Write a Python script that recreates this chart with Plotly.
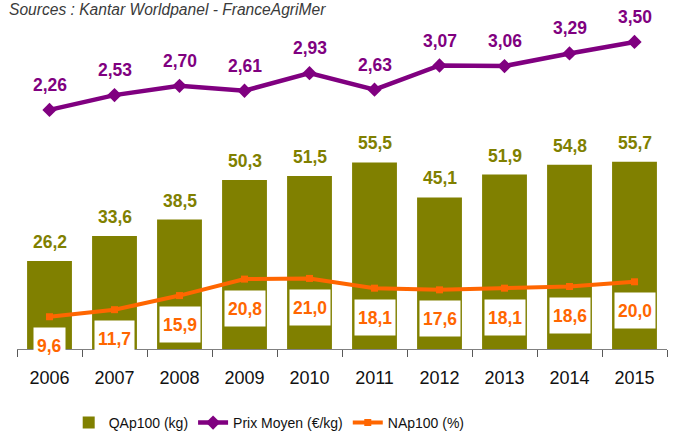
import plotly.graph_objects as go

years = ["2006", "2007", "2008", "2009", "2010", "2011", "2012", "2013", "2014", "2015"]
qap100 = [26.2, 33.6, 38.5, 50.3, 51.5, 55.5, 45.1, 51.9, 54.8, 55.7]
prix_moyen = [2.26, 2.53, 2.70, 2.61, 2.93, 2.63, 3.07, 3.06, 3.29, 3.50]
nap100 = [9.6, 11.7, 15.9, 20.8, 21.0, 18.1, 17.6, 18.1, 18.6, 20.0]

OLIVE = "#808000"
PURPLE = "#800080"
ORANGE = "#FF6600"
FONT = "Liberation Sans, Arial, sans-serif"


def fr(v, nd=1):
    """French decimal comma."""
    return f"{v:.{nd}f}".replace(".", ",")


fig = go.Figure()

fig.add_trace(
    go.Bar(
        x=years,
        y=qap100,
        name="QAp100 (kg)",
        marker=dict(color=OLIVE, line_width=0),
        yaxis="y",
    )
)
fig.add_trace(
    go.Scatter(
        x=years,
        y=prix_moyen,
        name="Prix Moyen (€/kg)",
        mode="lines+markers",
        line=dict(color=PURPLE, width=4.5),
        marker=dict(symbol="diamond", size=11, color=PURPLE),
        yaxis="y2",
        cliponaxis=False,
    )
)
fig.add_trace(
    go.Scatter(
        x=years,
        y=nap100,
        name="NAp100 (%)",
        mode="lines+markers",
        line=dict(color=ORANGE, width=4),
        marker=dict(symbol="square", size=7, color=ORANGE),
        yaxis="y",
    )
)

# value labels (x given as category index so "2006" isn't read as index 2006)
for i, v in enumerate(qap100):
    fig.add_annotation(
        x=i, y=v, yref="y", text=fr(v), showarrow=False, yshift=19,
        font=dict(family=FONT, size=17.5, color=OLIVE, weight="bold"),
    )
for i, v in enumerate(prix_moyen):
    fig.add_annotation(
        x=i, y=v, yref="y2", text=fr(v, 2), showarrow=False, yshift=25,
        font=dict(family=FONT, size=17.5, color=PURPLE, weight="bold"),
    )
for i, v in enumerate(nap100):
    fig.add_annotation(
        x=i, y=v, yref="y", text=fr(v), showarrow=False, yshift=-29,
        bgcolor="white", height=29, borderpad=3,
        font=dict(family=FONT, size=17.5, color=ORANGE, weight="bold"),
    )

fig.add_annotation(
    x=0, y=1, xref="paper", yref="paper", xanchor="left", yanchor="middle",
    xshift=-10, yshift=11,
    text="<i>Sources : Kantar Worldpanel - FranceAgriMer</i>", showarrow=False,
    font=dict(family=FONT, size=15.6, color="#3a3a3a"),
)

fig.update_layout(
    width=673,
    height=435,
    margin=dict(l=17, r=6, t=20, b=86),
    paper_bgcolor="white",
    plot_bgcolor="white",
    bargap=0.31,
    font=dict(family=FONT, color="#000000"),
    xaxis=dict(
        type="category",
        range=[-0.5, len(years) - 0.5],
        showline=True,
        linecolor="#808080",
        linewidth=1,
        ticks="outside",
        tickson="boundaries",
        ticklen=7,
        tickcolor="#595959",
        tickfont=dict(size=18, color="#111111"),
        ticklabelstandoff=12,
        tickangle=0,
        showgrid=False,
    ),
    yaxis=dict(range=[0, 97.9], visible=False, showgrid=False),
    yaxis2=dict(range=[-2.10, 3.90], overlaying="y", visible=False, showgrid=False),
    legend=dict(
        orientation="h",
        x=0.388,
        xanchor="center",
        yref="container",
        y=1 - 423 / 435,
        yanchor="middle",
        font=dict(size=14, color="#111111"),
        itemwidth=30,
    ),
    showlegend=True,
)

fig.write_html(
    "out.html",
    config={"displayModeBar": False},
    post_script="document.body.style.margin='0';",
)
